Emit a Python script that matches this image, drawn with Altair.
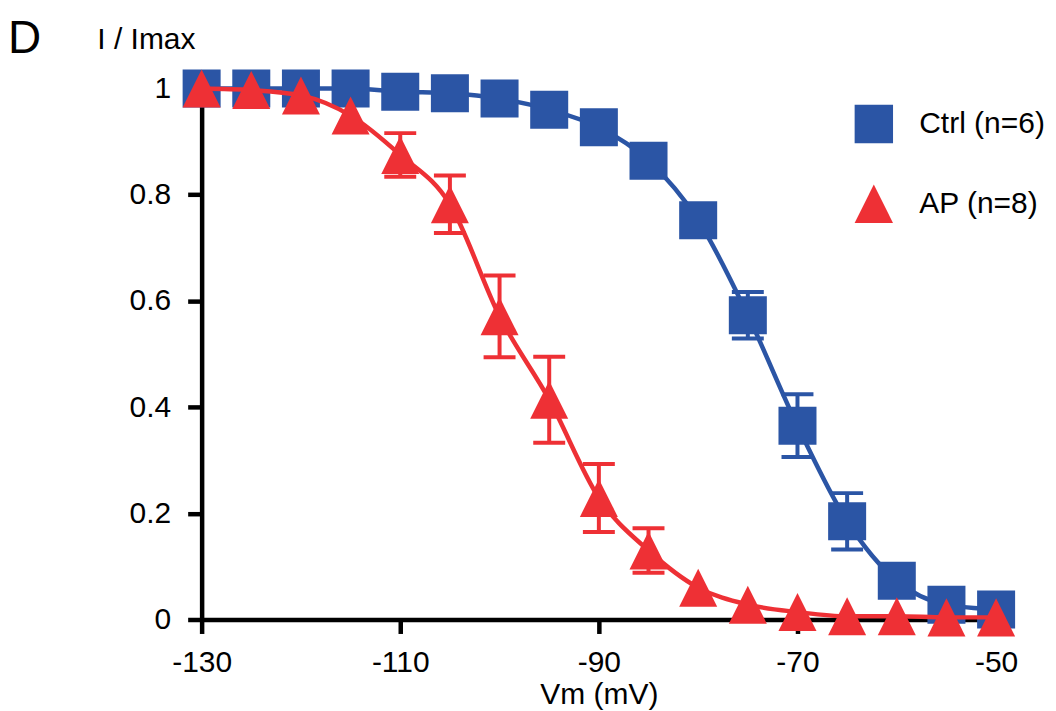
import altair as alt
import pandas as pd

vm = [-130, -125, -120, -115, -110, -105, -100, -95, -90, -85, -80, -75, -70, -65, -60, -55, -50]
ctrl_mean = [1.0, 1.0, 1.0, 1.0, 0.994, 0.991, 0.981, 0.960, 0.927, 0.864, 0.752, 0.573, 0.365, 0.185, 0.073, 0.028, 0.019]
ctrl_sem = [0, 0, 0, 0, 0, 0, 0, 0, 0, 0, 0, 0.044, 0.059, 0.053, 0, 0, 0]
ap_mean = [1.0, 0.997, 0.987, 0.949, 0.875, 0.782, 0.571, 0.414, 0.229, 0.130, 0.060, 0.028, 0.014, 0.006, 0.006, 0.004, 0.004]
ap_sem = [0, 0, 0, 0, 0.041, 0.054, 0.077, 0.081, 0.064, 0.042, 0, 0, 0, 0, 0, 0, 0]

series_names = ["Ctrl (n=6)", "AP (n=8)"]
series_colors = ["#2B55A5", "#EE3035"]
series_shapes = ["square", "M0,-1L-1,1L1,1Z"]
x_ticks = [-130, -110, -90, -70, -50]
y_ticks = [0, 0.2, 0.4, 0.6, 0.8, 1]
panel_label = ["D"]

rows = []
for name, means, sems in [(series_names[0], ctrl_mean, ctrl_sem), (series_names[1], ap_mean, ap_sem)]:
    for v, m, s in zip(vm, means, sems):
        rows.append({"series": name, "vm": v, "mean": m, "sem": s})
df = pd.DataFrame(rows)

FONT = "Liberation Sans"
FS = 30

color_scale = alt.Scale(domain=series_names, range=series_colors)
shape_scale = alt.Scale(domain=series_names, range=series_shapes)


def X():
    return alt.X("vm:Q", scale=alt.Scale(domain=[-130, -50], nice=False, zero=False),
                 axis=alt.Axis(values=x_ticks, title="Vm (mV)", labelPadding=14, titlePadding=2,
                               labelFlush=False, labelExpr="'' + datum.value"))


def Y(field):
    return alt.Y(f"{field}:Q", scale=alt.Scale(domain=[0, 1], nice=False),
                 axis=alt.Axis(values=y_ticks, format="~g", title="I / Imax", titleAngle=0,
                               titleAlign="left", titleBaseline="alphabetic",
                               titleX=-105, titleY=-40, labelPadding=17))


def series_layers(i):
    name = series_names[i]
    c = series_colors[i]
    base = alt.Chart(df).transform_filter(alt.datum.series == name)
    line = base.mark_line(strokeWidth=4.5, interpolate="monotone", color=c).encode(
        x=X(), y=Y("mean"))
    err = base.transform_filter(alt.datum.sem > 0).transform_calculate(
        lo="datum.mean - datum.sem", hi="datum.mean + datum.sem")
    rule = err.mark_rule(strokeWidth=4, color=c).encode(x=X(), y=Y("lo"), y2="hi:Q")
    cap_lo = err.mark_tick(orient="horizontal", size=32, thickness=4, opacity=1, color=c).encode(
        x=X(), y=Y("lo"))
    cap_hi = err.mark_tick(orient="horizontal", size=32, thickness=4, opacity=1, color=c).encode(
        x=X(), y=Y("hi"))
    pts = base.mark_point(filled=True, size=1450, opacity=1, strokeWidth=0).encode(
        x=X(), y=Y("mean"),
        color=alt.Color("series:N", scale=color_scale, legend=alt.Legend(title=None)),
        shape=alt.Shape("series:N", scale=shape_scale, legend=alt.Legend(title=None)))
    return [rule, cap_lo, cap_hi, line, pts]


label_layer = alt.Chart(pd.DataFrame({"label": panel_label})).mark_text(
    align="left", baseline="alphabetic", fontSize=46, font=FONT, color="black"
).encode(text="label:N", x=alt.value(-194), y=alt.value(-36))

layers = series_layers(0) + series_layers(1) + [label_layer]

chart = alt.layer(*layers).properties(
    width=796, height=532,
    autosize=alt.AutoSizeParams(type="none"),
    padding={"left": 194, "top": 80, "right": 52, "bottom": 90},
).configure_view(stroke=None).configure_axis(
    grid=False, domainColor="black", domainWidth=4.5, tickColor="black", tickWidth=4.5,
    tickSize=14, labelFont=FONT, labelFontSize=FS, labelColor="black",
    titleFont=FONT, titleFontSize=FS, titleFontWeight="normal", titleColor="black",
).configure_legend(
    orient="none", legendX=654, legendY=16, padding=0, symbolSize=1480, symbolStrokeWidth=0,
    labelFont=FONT, labelFontSize=30, labelColor="black", labelOffset=26, rowPadding=41,
)

chart.save("out.html", embed_options={"renderer": "svg", "actions": False})
